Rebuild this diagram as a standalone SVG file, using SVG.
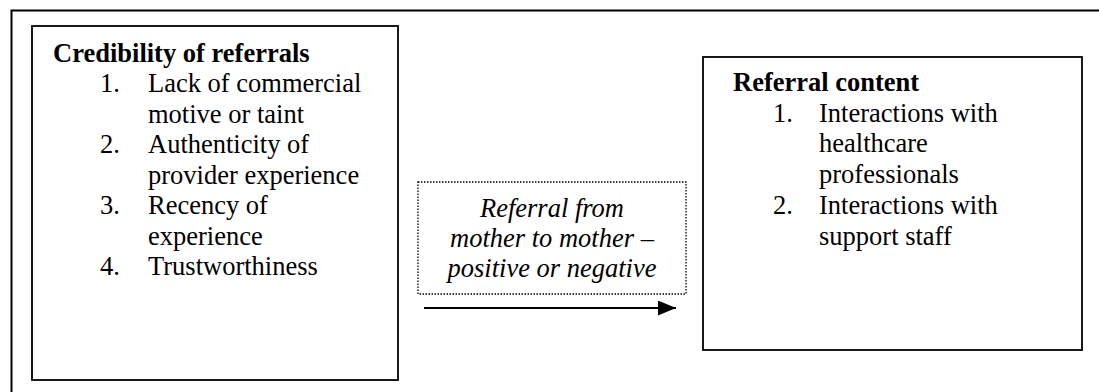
<svg xmlns="http://www.w3.org/2000/svg" width="1099" height="392" viewBox="0 0 1099 392">
<style>
text{font-family:"Liberation Serif","Times New Roman",serif;font-size:26.5px;fill:#000}
.b{font-weight:bold}
.i{font-style:italic}
.box{fill:#fff;stroke:#000;stroke-width:1.8}
.dot{fill:#fff;stroke:#000;stroke-width:1.3;stroke-dasharray:1.5 1.5}
</style>
<defs>
<marker id="ah" viewBox="0 0 10 10" refX="10" refY="5" markerUnits="userSpaceOnUse" markerWidth="18" markerHeight="15" preserveAspectRatio="none" orient="auto">
<path d="M0,0 L10,5 L0,10 Z" fill="#000"/>
</marker>
</defs>
<rect x="11.5" y="10.5" width="1100" height="400" fill="#fff" stroke="#000" stroke-width="2"/>
<g id="credibility">
<rect class="box" x="32" y="26" width="366" height="354"/>
<text class="b" x="53" y="61.5">Credibility of referrals</text>
<text x="100" y="92">1.</text><text x="148" y="92">Lack of commercial</text>
<text x="148" y="122.5">motive or taint</text>
<text x="100" y="153">2.</text><text x="148" y="153">Authenticity of</text>
<text x="148" y="183.5">provider experience</text>
<text x="100" y="214">3.</text><text x="148" y="214">Recency of</text>
<text x="148" y="244.5">experience</text>
<text x="100" y="275">4.</text><text x="148" y="275">Trustworthiness</text>
</g>
<g id="referral-label">
<rect class="dot" x="418" y="182" width="268" height="112"/>
<text class="i" x="552" y="216.5" text-anchor="middle">Referral from</text>
<text class="i" x="552" y="246.8" text-anchor="middle">mother to mother –</text>
<text class="i" x="552" y="277" text-anchor="middle">positive or negative</text>
</g>
<g id="content">
<rect class="box" x="703" y="57" width="379" height="293"/>
<text class="b" x="733" y="90.7">Referral content</text>
<text x="773" y="121.5">1.</text><text x="819" y="121.5">Interactions with</text>
<text x="819" y="152">healthcare</text>
<text x="819" y="182.5">professionals</text>
<text x="773" y="213.5">2.</text><text x="819" y="213.5">Interactions with</text>
<text x="819" y="244.5">support staff</text>
</g>
<g id="connectors">
<line x1="424" y1="308" x2="676" y2="308" stroke="#000" stroke-width="2" marker-end="url(#ah)"/>
</g>
</svg>
